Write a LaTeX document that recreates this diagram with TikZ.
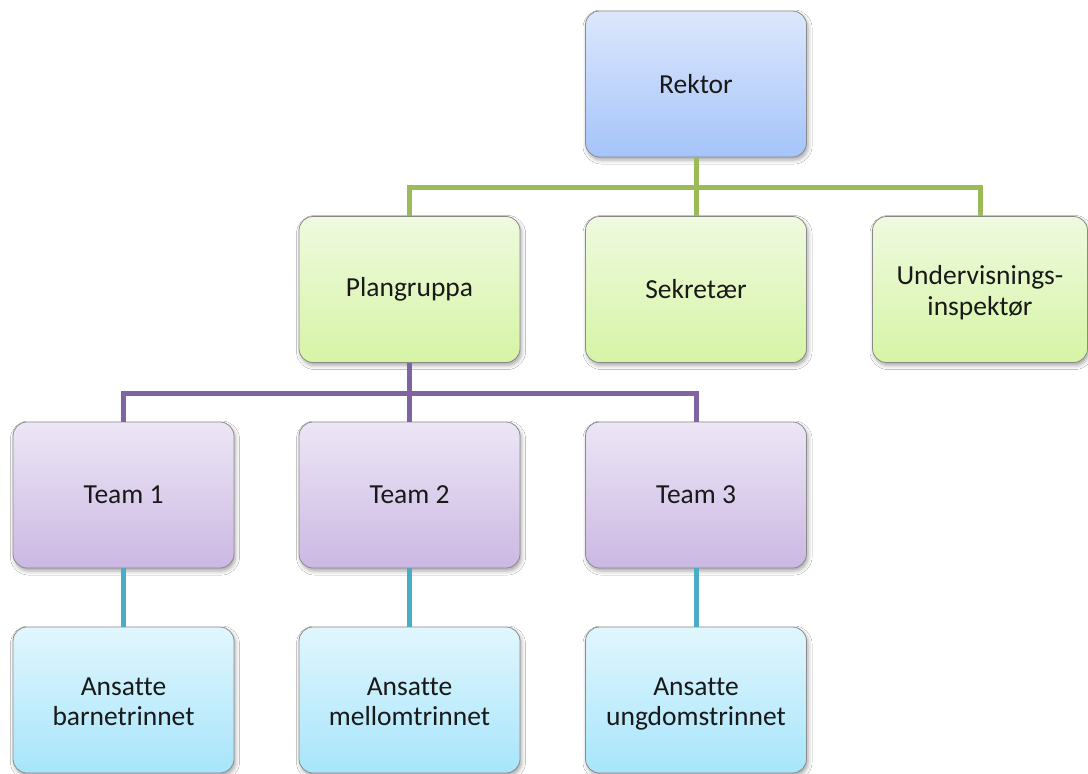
\documentclass[tikz,border=0pt]{standalone}
\usepackage{fontspec}
\setmainfont{Carlito}[Ligatures=NoCommon]
\usetikzlibrary{shadows.blur}

\definecolor{rTop}{HTML}{DCE7FC}
\definecolor{rBot}{HTML}{A5C4FA}
\definecolor{gTop}{HTML}{EFFADF}
\definecolor{gBot}{HTML}{D6F4A5}
\definecolor{pTop}{HTML}{EDE6F6}
\definecolor{pBot}{HTML}{CBB8E3}
\definecolor{cTop}{HTML}{E1F6FD}
\definecolor{cBot}{HTML}{A7E5FB}
\definecolor{edgeGray}{HTML}{8A8A8A}
\definecolor{gLine}{HTML}{9BBB59}
\definecolor{pLine}{HTML}{8064A2}
\definecolor{cLine}{HTML}{4BACC6}

% extra room above the first of two lines, so the pair sits a little lower
\newcommand\toproom{\rule{0pt}{30pt}}

\tikzset{
  unit/.style={rectangle, rounded corners=14pt, draw=edgeGray, line width=0.8pt,
    minimum width=221pt, minimum height=146pt, inner sep=0pt,
    align=center, text=black!90, font=\fontsize{27.5}{30.5}\selectfont,
    blur shadow={shadow xshift=1.5pt, shadow yshift=-3pt,
      shadow blur radius=4pt, shadow opacity=35}},
  blueunit/.style={unit, top color=rTop, bottom color=rBot},
  greenunit/.style={unit, top color=gTop, bottom color=gBot},
  purpleunit/.style={unit, top color=pTop, bottom color=pBot},
  cyanunit/.style={unit, top color=cTop, bottom color=cBot},
  link/.style={line width=5pt},
}

\begin{document}
\begin{tikzpicture}[x=1pt,y=-1pt]
\useasboundingbox[fill=white] (0,0) rectangle (1088,774);

% boxes
\node[blueunit]   (rektor) at (696,84)    {Rektor};
\node[greenunit]  (plan)   at (409.5,289.5) {Plangruppa};
\node[greenunit]  (sek)    at (696,289.5)   {Sekretær};
\node[greenunit, minimum width=215pt] (und) at (980,289.5) {\toproom Undervisnings-\\inspektør\strut};
\node[purpleunit] (t1) at (123.5,495) {Team 1};
\node[purpleunit] (t2) at (409.5,495) {Team 2};
\node[purpleunit] (t3) at (696,495)   {Team 3};
\node[cyanunit]   (a1) at (123.5,700) {\toproom Ansatte\\barnetrinnet\strut};
\node[cyanunit]   (a2) at (409.5,700) {\toproom Ansatte\\mellomtrinnet\strut};
\node[cyanunit]   (a3) at (696,700)   {\toproom Ansatte\\ungdomstrinnet\strut};

% junction points of the branches
\coordinate (gj) at (696,187);
\coordinate (pj) at (409.5,393);

% connectors
\draw[link, gLine] (rektor.south) -- (sek.north);
\draw[link, gLine] (plan.north) |- (gj) -| (und.north);
\draw[link, pLine] (plan.south) -- (t2.north);
\draw[link, pLine] (t1.north) |- (pj) -| (t3.north);
\draw[link, cLine] (t1.south) -- (a1.north);
\draw[link, cLine] (t2.south) -- (a2.north);
\draw[link, cLine] (t3.south) -- (a3.north);
\end{tikzpicture}
\end{document}
